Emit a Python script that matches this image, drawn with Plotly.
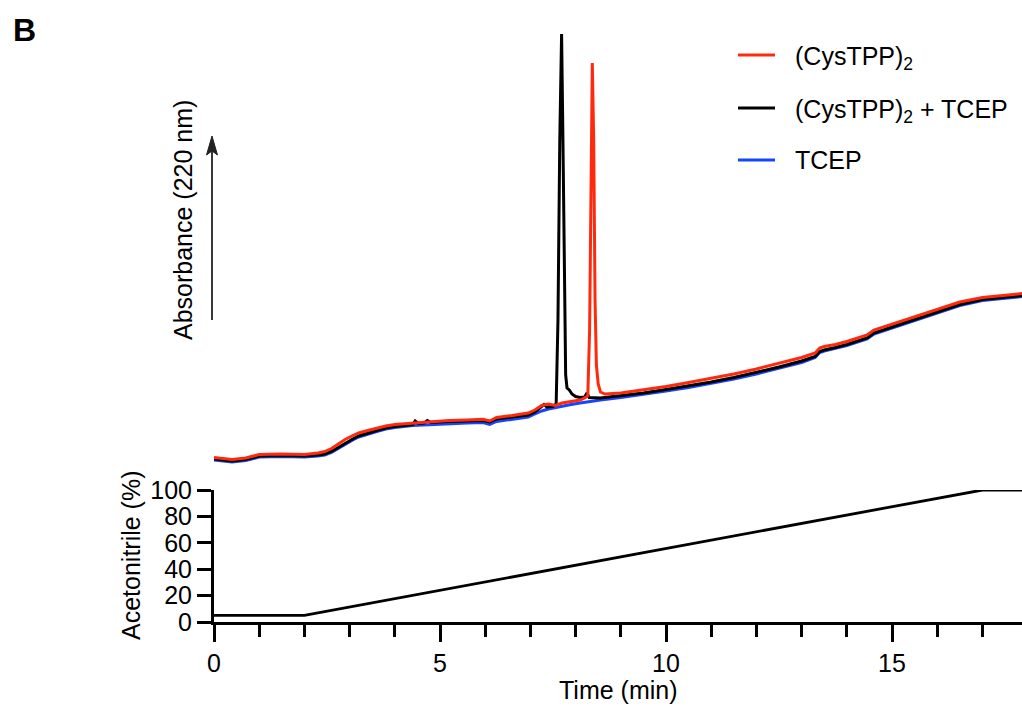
import plotly.graph_objects as go

# ---- chromatogram data (absorbance at 220 nm, arbitrary units) ----
t_dimer = [0, 0.15, 0.4, 0.7, 1.0, 1.5, 2.0, 2.3, 2.45, 2.6, 2.75, 2.9, 3.05, 3.2,
           3.4, 3.6, 3.8, 4.0, 4.4, 4.8, 5.2, 5.6, 5.95, 6.1, 6.25, 6.6, 6.95, 7.1,
           7.25, 7.4, 7.55, 7.7, 7.9, 8.1, 8.2, 8.27, 8.31, 8.34, 8.37, 8.40, 8.43,
           8.46, 8.50, 8.55, 8.65, 9.0, 9.5, 10.0, 10.5, 11.0, 11.5, 12.0, 12.5, 13.0,
           13.3, 13.4, 13.5, 13.75, 14.0, 14.45, 14.6, 15.0, 15.5, 16.0, 16.5, 17.0,
           17.5, 17.9]
a_dimer = [12.5, 11.5, 10.5, 12, 15.5, 16, 15.5, 17, 18.5, 21.5, 26, 30.5, 34, 37,
           39.5, 42, 44, 45.5, 47, 48.5, 49.5, 50, 50.7, 49, 52.5, 54.5, 57, 60,
           64.5, 66, 64.5, 67, 68.5, 70, 72, 74, 140, 300, 407, 330, 170,
           105, 86, 78, 76, 77, 80, 83.5, 87.5, 91.5, 96, 101, 106.5, 112.5,
           117, 122, 123.5, 125.5, 128.5, 135, 140, 146, 153.5, 161, 168, 172.5,
           175, 176.5]

t_reduced = [0, 0.15, 0.4, 0.7, 1.0, 1.5, 2.0, 2.3, 2.45, 2.6, 2.75, 2.9, 3.05, 3.2,
             3.4, 3.6, 3.8, 4.0, 4.4, 4.45, 4.52, 4.65, 4.72, 4.8, 5.2, 5.6, 5.95,
             6.1, 6.25, 6.6, 6.95, 7.1, 7.25, 7.3, 7.36, 7.5, 7.57, 7.61, 7.65, 7.69,
             7.72, 7.75, 7.78, 7.81, 7.86, 7.92, 8.0, 8.1, 8.2, 8.25, 8.3, 8.55, 8.65,
             9.0, 9.5, 10.0, 10.5, 11.0, 11.5, 12.0, 12.5, 13.0, 13.3, 13.4, 13.5,
             13.75, 14.0, 14.45, 14.6, 15.0, 15.5, 16.0, 16.5, 17.0, 17.5, 17.9]
a_reduced = [11, 10, 9, 10.5, 14, 14.5, 14, 15, 16, 18.5, 22.5, 27, 30.5, 34,
             37, 39.5, 42, 43.5, 45.5, 49, 46.5, 47, 49.5, 47.5, 48.5, 49, 49.5,
             48, 51, 53, 55, 58, 63, 65.5, 63, 63.5, 66, 150, 330, 436,
             330, 180, 95, 82, 80, 76, 73.5, 72.5, 73, 77, 72.5, 72, 72.5,
             74, 77, 80.5, 84, 88, 92.5, 97.5, 103, 109,
             113.5, 118.5, 120, 122.5, 125.5, 132, 137, 143, 150.5, 158, 165.5,
             170.5, 173, 174.5]

t_tcep = [0, 0.15, 0.4, 0.7, 1.0, 1.5, 2.0, 2.3, 2.45, 2.6, 2.75, 2.9, 3.05, 3.2,
          3.4, 3.6, 3.8, 4.0, 4.4, 4.8, 5.2, 5.6, 5.95, 6.1, 6.25, 6.6, 6.95, 7.1,
          7.25, 7.4, 7.55, 7.7, 7.9, 8.1, 8.3, 8.55, 9.0, 9.5, 10.0, 10.5, 11.0,
          11.5, 12.0, 12.5, 13.0, 13.3, 13.4, 13.5, 13.75, 14.0, 14.45, 14.6, 15.0,
          15.5, 16.0, 16.5, 17.0, 17.5, 17.9]
a_tcep = [10, 9, 8, 9.5, 13, 13.5, 13, 14, 15, 17.5, 21.5, 26, 29.5, 33,
          36, 38.5, 41, 42.5, 44.5, 45.5, 46.5, 47, 47.5, 45.5, 48.5, 51, 53, 56,
          59, 61, 62.5, 64, 65.5, 67, 68.5, 70, 72.5, 75.5, 79, 82.5, 86.5,
          91, 96, 101.5, 107.5, 112.5, 117.5, 119, 121.5, 124.5, 131, 136, 142,
          149.5, 157, 164.5, 169.5, 172, 173.5]

# ---- mobile phase gradient ----
t_grad = [0, 2, 17, 18]
acn_pct = [5, 5, 100, 100]

series_names = ["(CysTPP)<sub>2</sub>", "(CysTPP)<sub>2</sub> + TCEP", "TCEP"]
series_colors = ["#FF2A0E", "#000000", "#1744FF"]

x_ticks = [0, 5, 10, 15]
y_ticks = [0, 20, 40, 60, 80, 100]

FONT = "Liberation Sans, Arial, Helvetica, sans-serif"

# page geometry of the plotting area (pixels)
L, R, T, B = 214, 0, 30, 85
W_PAGE, H_PAGE = 1022, 707
PW, PH = W_PAGE - L - R, H_PAGE - T - B
PX_PER_MIN = 45.2
x_max = PW / PX_PER_MIN


def px(xp):
    return (xp - L) / PW


def py(yp):
    return (H_PAGE - B - yp) / PH


fig = go.Figure()

# chromatograms (upper panel), drawn bottom-to-top: TCEP, reduced, dimer
for tt, aa, name, col in [
    (t_tcep, a_tcep, series_names[2], series_colors[2]),
    (t_reduced, a_reduced, series_names[1], series_colors[1]),
    (t_dimer, a_dimer, series_names[0], series_colors[0]),
]:
    fig.add_trace(go.Scatter(x=tt, y=aa, mode="lines", name=name,
                             line=dict(color=col, width=3),
                             xaxis="x2", yaxis="y2", showlegend=False))

# gradient (lower panel)
fig.add_trace(go.Scatter(x=t_grad, y=acn_pct, mode="lines", name="Acetonitrile",
                         line=dict(color="black", width=2.8), showlegend=False,
                         cliponaxis=False))

fig.update_layout(
    width=W_PAGE, height=H_PAGE,
    margin=dict(l=L, r=R, t=T, b=B),
    paper_bgcolor="white", plot_bgcolor="white",
    font=dict(family=FONT, size=25, color="black"),
    xaxis=dict(domain=[0, 1], range=[0, x_max], anchor="y",
               tickvals=x_ticks, ticks="outside", ticklen=17, tickwidth=3,
               tickcolor="black", showline=True, linewidth=3, linecolor="black",
               showgrid=False, zeroline=False,
               minor=dict(dtick=1, tick0=0, ticks="outside", ticklen=12,
                          tickwidth=3, tickcolor="black", showgrid=False),
               tickfont=dict(size=25)),
    yaxis=dict(domain=[0, py(490)], range=[0, 100], anchor="x",
               tickvals=y_ticks, ticks="outside", ticklen=14, tickwidth=3,
               tickcolor="black", showline=True, linewidth=3, linecolor="black",
               showgrid=False, zeroline=False, tickfont=dict(size=25)),
    xaxis2=dict(domain=[0, 1], range=[0, x_max], anchor="y2", visible=False),
    yaxis2=dict(domain=[py(470), 1], range=[0, 440], anchor="x2", visible=False),
)

ann = []
# panel letter
ann.append(dict(text="<b>B</b>", x=px(24), y=py(30), xref="paper", yref="paper",
                showarrow=False, font=dict(size=32), xanchor="center", yanchor="middle"))
ann.append(dict(text="Absorbance (220 nm)", x=px(183), y=py(220), xref="paper",
                yref="paper", showarrow=False, textangle=-90,
                xanchor="center", yanchor="middle", font=dict(size=25)))
ann.append(dict(text="Acetonitrile (%)", x=px(131), y=py(555), xref="paper",
                yref="paper", showarrow=False, textangle=-90,
                xanchor="center", yanchor="middle", font=dict(size=25)))
ann.append(dict(text="Time (min)", x=px(618), y=py(690), xref="paper",
                yref="paper", showarrow=False, xanchor="center", yanchor="middle",
                font=dict(size=25)))

shapes = []
# absorbance direction arrow: shaft plus arrowhead
shapes.append(dict(type="line", xref="paper", yref="paper",
                   x0=px(212), x1=px(212), y0=py(320), y1=py(150),
                   line=dict(color="#222222", width=1.8)))
head = [(212, 136), (206.5, 155), (212, 151), (217.5, 155)]
head_path = "M " + " L ".join(f"{px(a):.5f},{py(b):.5f}" for a, b in head) + " Z"
shapes.append(dict(type="path", xref="paper", yref="paper", path=head_path,
                   fillcolor="#222222", line=dict(color="#222222", width=1)))

# legend entries
legend_rows = [55, 108, 160]
for name, col, yrow in zip(series_names, series_colors, legend_rows):
    shapes.append(dict(type="line", xref="paper", yref="paper",
                       x0=px(738), x1=px(775), y0=py(yrow), y1=py(yrow),
                       line=dict(color=col, width=3)))
    ann.append(dict(text=name, x=px(793), y=py(yrow + (3 if "sub" in name else 0)),
                    xref="paper", yref="paper", showarrow=False,
                    xanchor="left", yanchor="middle", font=dict(size=25)))

fig.update_layout(annotations=ann, shapes=shapes)

fig.write_html("out.html")
